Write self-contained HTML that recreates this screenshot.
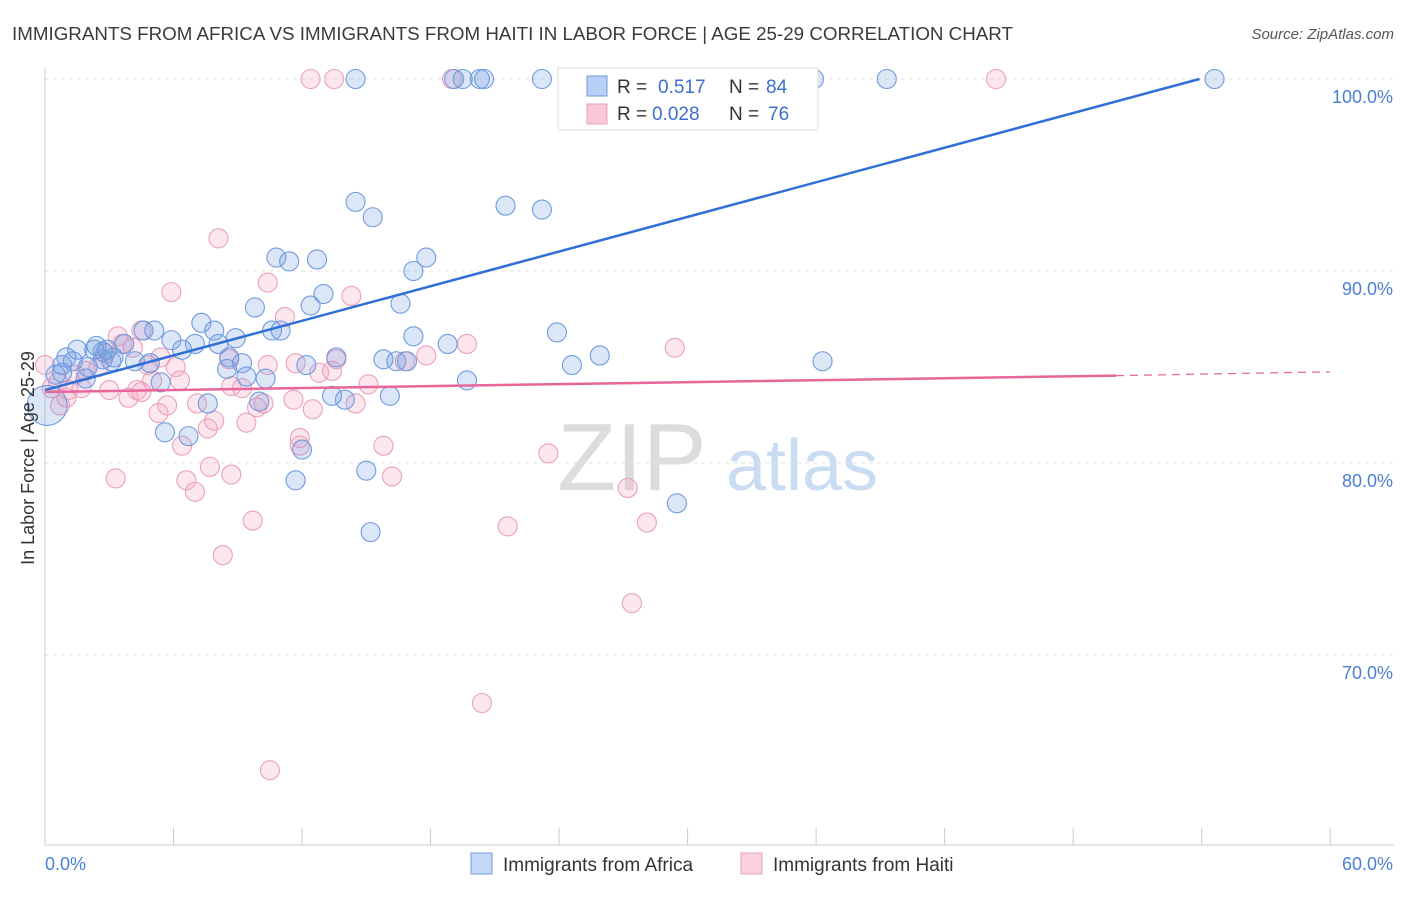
<!DOCTYPE html>
<html><head><meta charset="utf-8"><style>
body{margin:0;background:#fff;font-family:"Liberation Sans",sans-serif;}
svg text{font-family:"Liberation Sans",sans-serif;}
</style></head><body>
<svg id="chart" width="1406" height="892" xmlns="http://www.w3.org/2000/svg">
<text x="12" y="40" font-size="18" fill="#3a3a3a" textLength="1001" lengthAdjust="spacingAndGlyphs">IMMIGRANTS FROM AFRICA VS IMMIGRANTS FROM HAITI IN LABOR FORCE | AGE 25-29 CORRELATION CHART</text>
<text x="1394" y="39" font-size="15" fill="#555" text-anchor="end" font-style="italic">Source: ZipAtlas.com</text>
<g>
<text x="632" y="490" font-size="96" fill="#dcdcdc" text-anchor="middle" font-family="Liberation Serif,serif">ZIP</text>
<text x="802" y="490" font-size="72" fill="#c9dcf2" text-anchor="middle">atlas</text>
</g>
<g id="grid"></g>
<g id="axes"></g>
<g id="pts"></g>
<g id="lines"></g>
<text transform="translate(34,458) rotate(-90)" font-size="18" fill="#333" text-anchor="middle">In Labor Force | Age 25-29</text>
<g>
<rect x="558" y="68" width="260" height="62" fill="#fff" stroke="#ddd"/>
<rect x="587" y="76" width="20" height="20" fill="#b8d0f3" stroke="#6f9be0"/>
<text x="617" y="93" font-size="19" fill="#333">R = </text><text x="658" y="93" font-size="19" fill="#3a6fd0">0.517</text>
<text x="729" y="93" font-size="19" fill="#333">N = </text><text x="766" y="93" font-size="19" fill="#3a6fd0">84</text>
<rect x="587" y="104" width="20" height="20" fill="#f8c8d6" stroke="#eba0bb"/>
<text x="617" y="120" font-size="19" fill="#333">R = </text><text x="652" y="120" font-size="19" fill="#3a6fd0">0.028</text>
<text x="729" y="120" font-size="19" fill="#333">N = </text><text x="768" y="120" font-size="19" fill="#3a6fd0">76</text>
</g>
<g>
<rect x="471" y="853" width="21" height="21" fill="#c4d8f5" stroke="#6f9be0"/>
<text x="503" y="871" font-size="19" fill="#333">Immigrants from Africa</text>
<rect x="741" y="853" width="21" height="21" fill="#f9d0dc" stroke="#eba0bb"/>
<text x="773" y="871" font-size="19" fill="#333">Immigrants from Haiti</text>
</g>
</svg>
<script>
const africaX=[14.5,19.1,19.5,20.3,20.5,23.2,24.8,35.9,39.3,54.6,14.5,15.3,21.5,23.2,10.8,11.4,12.7,17.8,17.2,13.0,12.4,9.8,16.6,7.3,7.9,8.9,5.9,5.1,4.6,3.7,2.9,2.4,1.5,1.0,1.3,0.8,0.5,1.9,2.7,3.2,4.2,4.9,5.4,6.4,7.0,8.1,8.6,8.5,9.2,9.4,10.3,10.6,11.0,12.2,13.6,15.8,16.4,16.9,17.2,18.8,23.9,25.9,24.6,36.3,19.7,16.1,14.0,13.4,10.0,7.6,5.6,6.7,12.0,11.7,15.0,15.2,29.5,0.1,3.1,2.7,2.0,0.8,2.3];
const africaY=[100,100,100,100,100,100,100,100,100,100,93.6,92.8,93.4,93.2,90.7,90.5,90.6,90.7,90.0,88.8,88.2,88.1,88.3,87.3,86.9,86.5,86.4,86.9,86.9,86.2,85.9,86.1,85.9,85.5,85.3,85.1,84.6,84.4,85.4,85.5,85.3,85.2,84.2,85.9,86.2,86.2,85.5,84.9,85.2,84.5,84.4,86.9,86.9,85.1,85.5,85.4,85.3,85.3,86.6,86.2,86.8,85.6,85.1,85.3,84.3,83.5,83.3,83.5,83.2,83.1,81.6,81.4,80.7,79.1,79.6,76.4,77.9,83.0,85.3,85.8,85.0,84.7,85.9];
const haitiX=[12.4,13.5,19.0,44.4,8.1,10.4,14.3,5.9,11.2,3.4,4.5,3.6,2.8,4.1,5.4,6.1,5.0,6.3,4.8,2.5,1.9,1.4,0.6,0.3,1.0,1.1,1.7,3.0,3.9,4.3,5.3,5.7,7.1,7.6,7.9,9.4,9.9,10.2,9.2,8.7,10.4,11.7,12.8,13.4,13.6,14.5,15.1,16.8,17.8,19.7,11.6,12.5,11.9,11.9,6.4,6.6,7.0,7.7,8.7,9.7,8.3,3.3,15.8,16.2,23.5,21.6,27.2,28.1,27.4,29.4,20.4,10.5,0,8.6,0.7,4.5];
const haitiY=[100,100,100,100,91.7,89.4,88.7,88.9,87.6,86.6,86.9,86.2,85.7,86.0,85.5,85.0,84.3,84.3,85.1,85.0,84.8,84.6,84.2,83.9,83.4,83.8,83.9,83.8,83.4,83.8,82.6,83.0,83.1,81.8,82.2,82.1,82.9,83.1,83.9,84.0,85.1,85.2,84.7,84.8,85.4,83.1,84.1,85.3,85.6,86.2,83.3,82.8,81.3,80.9,80.9,79.1,78.5,79.8,79.4,77.0,75.2,79.2,80.9,79.3,80.5,76.7,78.7,76.9,72.7,86.0,67.5,64.0,85.1,85.4,83.0,83.7];
const yTicks=[100,90,80,70];
const yTickLabels=["100.0%","90.0%","80.0%","70.0%"];
const xTicks=[0,6,12,18,24,30,36,42,48,54,60];
const blueLine=[[0,83.8],[53.9,100]];
const pinkLine=[[0,83.7],[50,84.55]];
const pinkDash=[[50,84.55],[60,84.75]];

const NS="http://www.w3.org/2000/svg";
const sx=v=>45+v*21.42;
const sy=v=>79+(100-v)*19.2;
function mk(tag,attrs,parent){const e=document.createElementNS(NS,tag);for(const k in attrs)e.setAttribute(k,attrs[k]);parent.appendChild(e);return e;}
const grid=document.getElementById('grid'),axes=document.getElementById('axes'),pts=document.getElementById('pts'),lines=document.getElementById('lines');
yTicks.forEach((t,i)=>{
  const l=mk('line',{x1:45,x2:1394,y1:sy(t),y2:sy(t),stroke:'#e2e2e2','stroke-dasharray':'4,4'},grid);
  
  
  const tx=mk('text',{x:1393,y:sy(t)+24,'font-size':18,fill:'#4a7fd6','text-anchor':'end'},axes);
  tx.textContent=yTickLabels[i];
  
  
});
const ya=mk('line',{x1:45,x2:45,y1:68,y2:845,stroke:'#ccc'},axes);


const xa=mk('line',{x1:45,x2:1394,y1:845,y2:845,stroke:'#ccc'},axes);


xTicks.forEach(t=>{const l=mk('line',{x1:sx(t),x2:sx(t),y1:828,y2:845,stroke:'#ccc'},axes);
  
  });
const x0=mk('text',{x:45,y:870,'font-size':18,fill:'#4a7fd6'},axes);x0.textContent='0.0%';


const x1=mk('text',{x:1393,y:870,'font-size':18,fill:'#4a7fd6','text-anchor':'end'},axes);x1.textContent='60.0%';


haitiX.forEach((x,i)=>{const c=mk('circle',{cx:sx(x),cy:sy(haitiY[i]),r:9.5,fill:'rgba(244,160,190,0.25)',stroke:'#eba0bb','stroke-width':1.1},pts);
  
  });
africaX.forEach((x,i)=>{const c=mk('circle',{cx:sx(x),cy:sy(africaY[i]),r:(i===77?20:9.5),fill:'rgba(110,155,225,0.25)',stroke:'#6f9be0','stroke-width':1.1},pts);
  
  });
const bl=mk('line',{x1:sx(blueLine[0][0]),y1:sy(blueLine[0][1]),x2:sx(blueLine[1][0]),y2:sy(blueLine[1][1]),stroke:'#2f6fd6','stroke-width':2.5},lines);


const pl=mk('line',{x1:sx(pinkLine[0][0]),y1:sy(pinkLine[0][1]),x2:sx(pinkLine[1][0]),y2:sy(pinkLine[1][1]),stroke:'#e8669a','stroke-width':2.5},lines);


const pd=mk('line',{x1:sx(pinkDash[0][0]),y1:sy(pinkDash[0][1]),x2:sx(pinkDash[1][0]),y2:sy(pinkDash[1][1]),stroke:'#e8669a','stroke-width':1.2,'stroke-dasharray':'8,6'},lines);


</script>
</body></html>
